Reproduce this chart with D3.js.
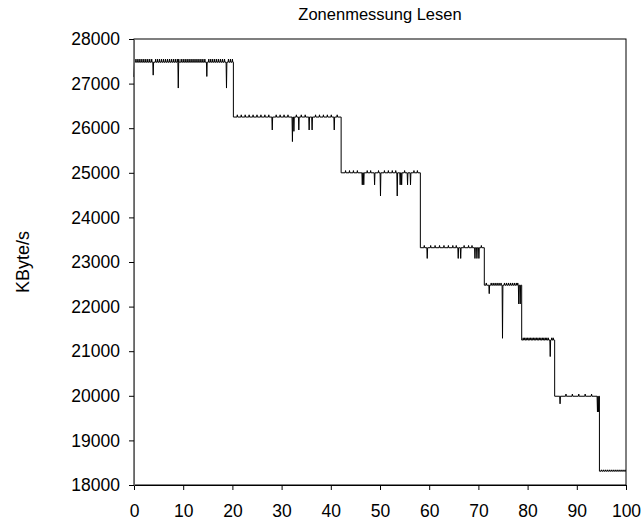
<!DOCTYPE html>
<html>
<head>
    <title>Zonenmessung Lesen</title>
    <script src="https://d3js.org/d3.v7.min.js"></script>
    <style>
        body { margin: 0; background: #fff; }
        svg text { font-family: "Liberation Sans", Arial, sans-serif; fill: #000; }
    </style>
</head>
<body>
    <svg id="chart" width="643" height="524"></svg>

    <script>
        // step boundaries (percent of disk) and read rate per zone
        var edges = [0, 20.2, 42.1, 58.2, 71.2, 78.8, 85.5, 94.6, 100];
        var levels = [27480, 26250, 25000, 23320, 22480, 21250, 19990, 18310];

        // deeper drops: [x, KByte/s]
        var dips = [
            [0, 27150], [3.9, 27190], [9.0, 26900], [14.8, 27160], [18.8, 26900],
            [28.1, 25960], [32.2, 25700], [32.5, 25930], [33.5, 25960], [35.6, 25960], [36.2, 25960], [40.7, 25960],
            [46.4, 24730], [46.7, 24730], [48.9, 24730], [50.1, 24480], [53.5, 24480], [54.1, 24730], [54.4, 24730], [55.6, 24730], [56.2, 24730],
            [59.6, 23080], [65.9, 23080], [66.4, 23080], [69.3, 23080], [69.7, 23080], [70.1, 23080],
            [72.2, 22290], [74.9, 21290], [78.2, 22060], [78.5, 22060],
            [84.6, 20880],
            [86.6, 19820], [94.2, 19640], [94.4, 19640]
        ];

        // small upward jitter spikes along each plateau
        var jitter = [
            [0.4, 0.8, 1.2, 1.6, 2.0, 2.4, 2.8, 3.2, 3.6, 4.4, 4.8, 5.2, 5.6, 6.0, 6.4, 6.8, 7.2, 7.6, 8.0, 8.4, 8.8, 9.1, 9.6, 10.0, 10.4, 10.8, 11.2, 11.6, 12.0, 12.4, 12.8, 13.2, 13.6, 14.0, 14.4, 15.2, 15.6, 16.0, 16.4, 16.8, 17.2, 17.6, 18.0, 18.4, 19.2, 19.6, 20.0],
            [21.0, 21.8, 22.6, 23.4, 24.2, 25.0, 25.8, 26.6, 27.4, 28.9, 29.7, 30.5, 31.3, 33.0, 34.0, 34.8, 36.9, 37.7, 38.5, 39.3, 40.1, 41.3],
            [43.0, 43.8, 44.6, 45.4, 47.4, 48.1, 49.7, 50.9, 51.7, 52.5, 53.2, 55.0, 56.9, 57.6],
            [59.0, 60.3, 61.2, 62.1, 63.0, 63.9, 64.8, 65.5, 67.1, 68.0, 68.7, 70.6],
            [71.6, 72.6, 73.0, 73.4, 73.8, 74.2, 74.6, 75.3, 75.7, 76.1, 76.5, 76.9, 77.3, 77.7, 78.0],
            [79.1, 79.4, 79.7, 80.0, 80.3, 80.6, 80.9, 81.2, 81.5, 81.8, 82.1, 82.4, 82.7, 83.0, 83.3, 83.6, 83.9, 84.2, 84.9, 85.2],
            [87.8, 89.1, 90.4, 91.7, 93.0],
            [95.0, 95.4, 95.8, 96.2, 96.6, 97.0, 97.4, 97.8, 98.2, 98.6, 99.0, 99.4, 99.8]
        ];
        var jitterSize = [70, 50, 50, 50, 50, 50, 50, 30];
        var xTicks = [0, 10, 20, 30, 40, 50, 60, 70, 80, 90, 100];
        var yTicks = [18000, 19000, 20000, 21000, 22000, 23000, 24000, 25000, 26000, 27000, 28000];

        var margin = { top: 39, right: 17, bottom: 39, left: 134 };
        var width = 643 - margin.left - margin.right;
        var height = 524 - margin.top - margin.bottom;

        var svg = d3.select("#chart");
        var g = svg.append("g")
            .attr("transform", "translate(" + margin.left + "," + margin.top + ")");

        var x = d3.scaleLinear().domain([0, 100]).range([0, width]);
        var y = d3.scaleLinear().domain([18000, 28000]).range([height, 0]);

        // build the point list: plateau by plateau with spikes
        var points = [];
        levels.forEach(function(lvl, i) {
            var from = edges[i], to = edges[i + 1];
            var events = [];
            dips.forEach(function(d) {
                if (d[0] >= from && d[0] < to) events.push({ x: d[0], v: d[1] });
            });
            jitter[i].forEach(function(t) {
                events.push({ x: t, v: lvl + jitterSize[i] });
            });
            events.sort(function(a, b) { return a.x - b.x; });

            points.push([from, lvl]);
            events.forEach(function(e) {
                if (e.x === 0) { points[points.length - 1] = [0, e.v]; points.push([0.1, lvl]); return; }
                points.push([e.x - 0.08, lvl]);
                points.push([e.x, e.v]);
                points.push([e.x + 0.08, lvl]);
            });
            points.push([to, lvl]);
        });

        var line = d3.line()
            .x(function(d) { return x(d[0]); })
            .y(function(d) { return y(d[1]); });

        g.append("path")
            .datum(points)
            .attr("fill", "none")
            .attr("stroke", "#000")
            .attr("stroke-width", 1)
            .attr("d", line);

        // frame
        g.append("rect")
            .attr("x", 0).attr("y", 0)
            .attr("width", width).attr("height", height)
            .attr("fill", "none")
            .attr("stroke", "#000")
            .attr("stroke-width", 1);

        var xAxis = g.append("g")
            .attr("transform", "translate(0," + height + ")")
            .call(d3.axisBottom(x).tickValues(xTicks).tickSize(5).tickPadding(15));
        xAxis.select(".domain").attr("stroke", "#000");
        xAxis.selectAll("text").attr("font-size", 17.5);

        var yAxis = g.append("g")
            .call(d3.axisLeft(y).tickValues(yTicks).tickSize(5).tickFormat(d3.format("d")).tickPadding(9));
        yAxis.select(".domain").attr("stroke", "#666");
        yAxis.selectAll("text").attr("font-size", 17.5);

        svg.append("text")
            .attr("x", margin.left + width / 2)
            .attr("y", 20)
            .attr("text-anchor", "middle")
            .attr("font-size", 16.5)
            .text("Zonenmessung Lesen");

        svg.append("text")
            .attr("transform", "translate(29," + (margin.top + height / 2) + ") rotate(-90)")
            .attr("text-anchor", "middle")
            .attr("font-size", 18)
            .text("KByte/s");
    </script>
</body>
</html>
